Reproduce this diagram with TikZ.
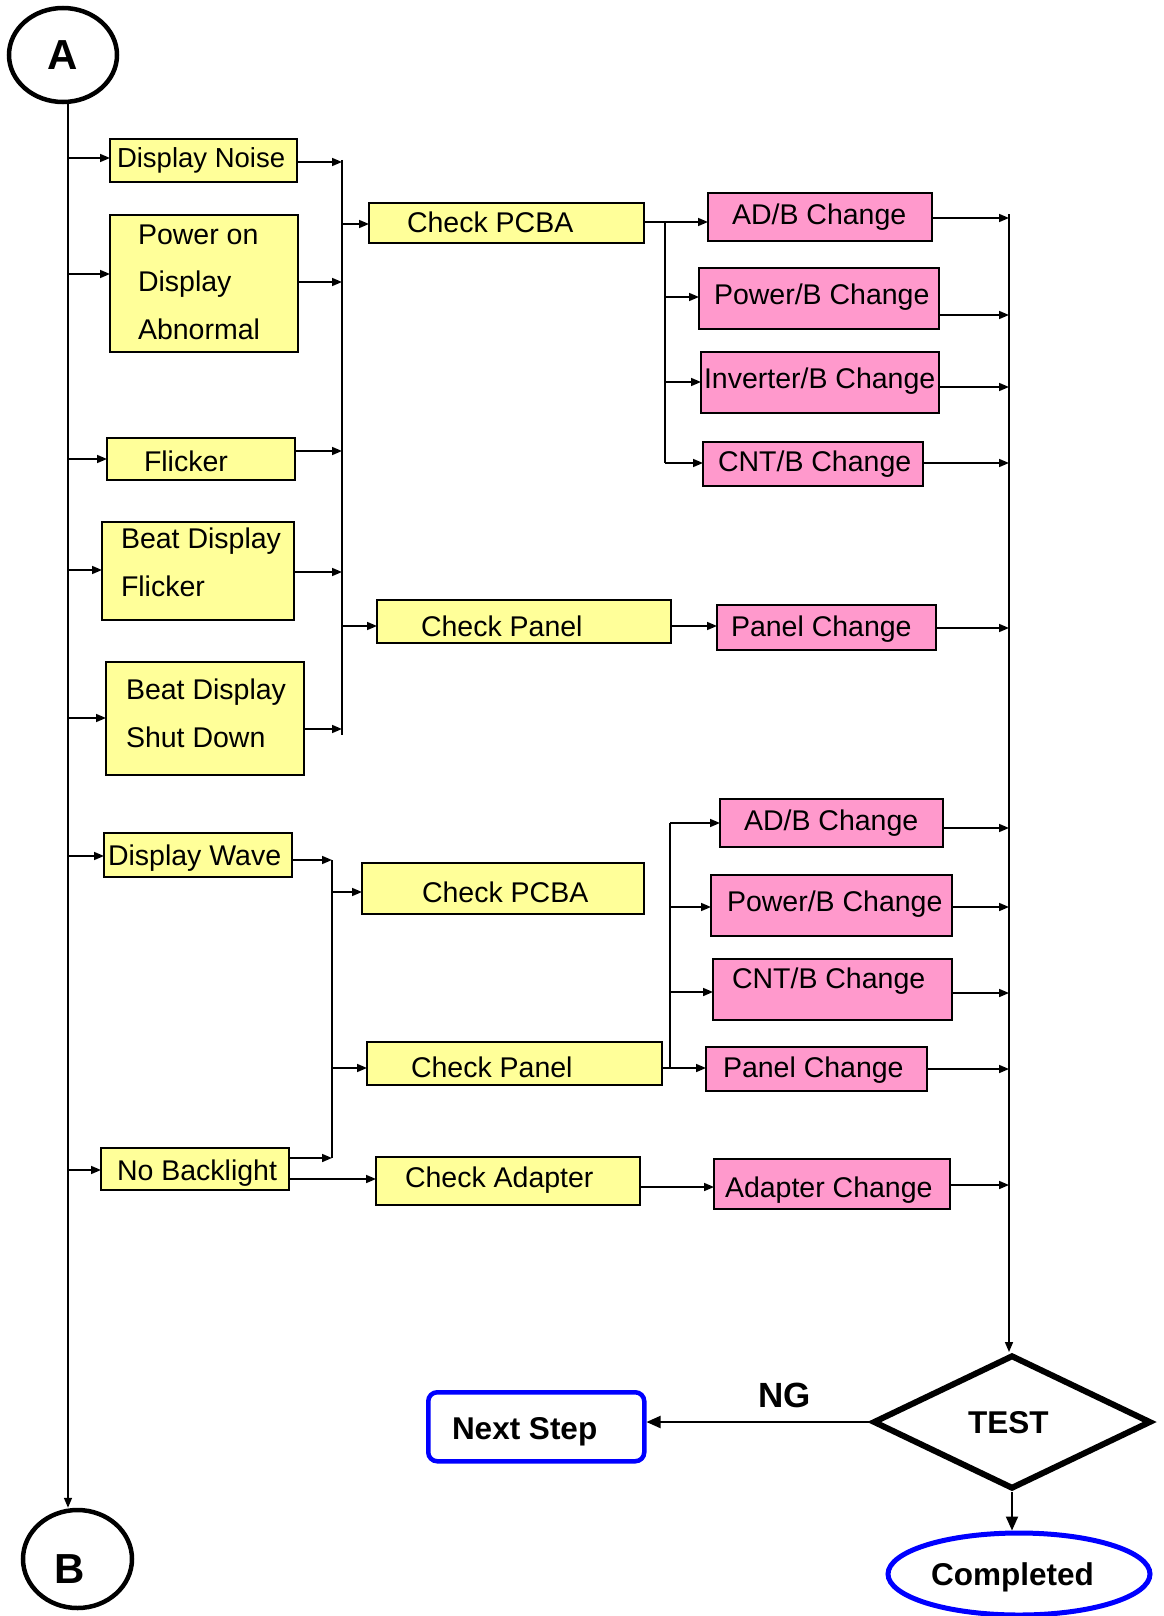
\documentclass[tikz,border=0pt]{standalone}
\usepackage{fontspec}
\setmainfont{Liberation Sans}
\usetikzlibrary{arrows.meta,shapes.geometric}
\definecolor{yel}{HTML}{FFFF99}
\definecolor{pnk}{HTML}{FF99CC}
\definecolor{blu}{HTML}{0000FF}
\tikzset{
  ybox/.style={draw, fill=yel, line width=1.8pt, inner sep=0pt, outer sep=0pt},
  pbox/.style={draw, fill=pnk, line width=1.8pt, inner sep=0pt, outer sep=0pt},
  txt/.style={inner sep=0pt, outer sep=0pt, font=\fontsize{28.5}{34}\selectfont},
  btxt/.style={inner sep=0pt, outer sep=0pt, font=\fontsize{31.5}{36}\selectfont\bfseries},
  arr/.style={line width=1.6pt, -{Triangle[length=10pt,width=8pt]}},
  bigarr/.style={line width=2pt, -{Triangle[length=14pt,width=12pt]}},
  ln/.style={line width=1.6pt},
  circ/.style={draw, ellipse, line width=4.5pt, inner sep=0pt, font=\fontsize{42}{48}\selectfont\bfseries}
}
\newcommand\bx[6]{\node[#2, anchor=north west, minimum width={(#5)-(#3)}, minimum height={(#6)-(#4)}] (#1) at (#3,#4) {};}
\newcommand\tx[4]{\node[txt, anchor=base west] (#1) at (#2,#3) {#4};}
\begin{document}
\begin{tikzpicture}[x=1pt,y=-1pt]
\path[use as bounding box] (0,0) rectangle (1163,1616);
% circles
\node[circ, minimum width=108, minimum height=94] (A) at (63,55) {A};
\node[circ, minimum width=109, minimum height=98] (B) at (77.5,1559) {};
\node[inner sep=0pt, anchor=base west, font=\fontsize{42}{48}\selectfont\bfseries] (Bt) at (54,1583) {B};
\coordinate (sp) at (68,0);
\coordinate (b1) at (342,0);
\coordinate (b2) at (332,0);
\coordinate (br1) at (665,0);
\coordinate (br2) at (670,0);
\coordinate (rb) at (1009,0);
% boxes
\bx{dn}{ybox}{110}{139}{297}{182}
\bx{po}{ybox}{110}{215}{298}{352}
\bx{fl}{ybox}{107}{438}{295}{480}
\bx{bdf}{ybox}{102}{522}{294}{620}
\bx{bds}{ybox}{106}{662}{304}{775}
\bx{cp1}{ybox}{369}{203}{644}{243}
\bx{cpn1}{ybox}{377}{600}{671}{643}
\bx{ad1}{pbox}{708}{193}{932}{241}
\bx{pw1}{pbox}{699}{268}{939}{329}
\bx{inv1}{pbox}{701}{352}{939}{413}
\bx{cnt1}{pbox}{703}{442}{923}{486}
\bx{pc1}{pbox}{717}{605}{936}{650}
\bx{dw}{ybox}{104}{833}{292}{877}
\bx{nb}{ybox}{101}{1148}{289}{1190}
\bx{cp2}{ybox}{362}{863}{644}{914}
\bx{cpn2}{ybox}{367}{1042}{662}{1085}
\bx{ca}{ybox}{376}{1157}{640}{1205}
\bx{ad2}{pbox}{720}{799}{943}{847}
\bx{pw2}{pbox}{711}{875}{952}{936}
\bx{cnt2}{pbox}{713}{959}{952}{1020}
\bx{pc2}{pbox}{706}{1047}{927}{1091}
\bx{ac}{pbox}{714}{1159}{950}{1209}
% texts
\node[txt, anchor=base west, font=\fontsize{27.5}{33}\selectfont] (dnt) at (117,168) {Display Noise};
\tx{pot1}{138}{244}{Power on}
\tx{pot2}{138}{291}{Display}
\tx{pot3}{138}{339}{Abnormal}
\tx{flt}{144}{471}{Flicker}
\tx{bdft1}{121}{548}{Beat Display}
\tx{bdft2}{121}{596}{Flicker}
\tx{bdst1}{126}{699}{Beat Display}
\tx{bdst2}{126}{747}{Shut Down}
\tx{cp1t}{407}{232}{Check PCBA}
\tx{cpn1t}{421}{636}{Check Panel}
\tx{ad1t}{732}{224}{AD/B Change}
\tx{pw1t}{714}{304}{Power/B Change}
\tx{inv1t}{704}{388}{Inverter/B Change}
\tx{cnt1t}{718}{471}{CNT/B Change}
\tx{pc1t}{731}{636}{Panel Change}
\tx{dwt}{108}{865}{Display Wave}
\tx{cp2t}{422}{902}{Check PCBA}
\tx{cpn2t}{411}{1077}{Check Panel}
\tx{nbt}{117}{1180}{No Backlight}
\tx{cat}{405}{1187}{Check Adapter}
\tx{ad2t}{744}{830}{AD/B Change}
\tx{pw2t}{727}{911}{Power/B Change}
\tx{cnt2t}{732}{988}{CNT/B Change}
\tx{pc2t}{723}{1077}{Panel Change}
\tx{act}{725}{1197}{Adapter Change}
% bottom shapes
\node[draw, diamond, line width=6pt, minimum width=278, minimum height=134, inner sep=0pt] (T) at (1012,1422) {};
\node[draw=blu, rounded corners=9pt, line width=4.5pt, minimum width=216, minimum height=69, anchor=north west] (ns) at (426,1390) {};
\node[draw=blu, ellipse, line width=5pt, minimum width=262, minimum height=82] (cm) at (1019,1574) {};
\node[btxt, anchor=base west] (Tt) at (968,1433) {TEST};
\node[btxt, anchor=base west] (nst) at (452,1439) {Next Step};
\node[btxt, anchor=base west] (cmt) at (931,1585) {Completed};
\node[btxt, anchor=base west, font=\fontsize{35}{40}\selectfont\bfseries] (ng) at (758,1407) {NG};
% spine
\draw[arr] (A.south -| sp) -- (B.north -| sp);
\foreach \n/\y in {dn/158, po/274, fl/459, bdf/570, bds/718, dw/856, nb/1170}
  \draw[arr] (sp |- 0,\y) -- (\n.west |- 0,\y);
% bus 1
\draw[ln] (b1 |- 0,160) -- (b1 |- 0,735);
\foreach \n/\y in {dn/162, po/282, fl/451, bdf/572, bds/729}
  \draw[arr] (\n.east |- 0,\y) -- (b1 |- 0,\y);
\draw[arr] (b1 |- 0,224) -- (cp1.west |- 0,224);
\draw[arr] (b1 |- 0,626) -- (cpn1.west |- 0,626);
% branch 1
\draw[arr] (cp1.east |- 0,222) -- (ad1.west |- 0,222);
\draw[ln] (br1 |- 0,222) -- (br1 |- 0,463);
\foreach \n/\y in {pw1/297, inv1/382, cnt1/463}
  \draw[arr] (br1 |- 0,\y) -- (\n.west |- 0,\y);
\draw[arr] (cpn1.east |- 0,626) -- (pc1.west |- 0,626);
% bus 2
\draw[arr] (dw.east |- 0,860) -- (b2 |- 0,860);
\draw[ln] (b2 |- 0,860) -- (b2 |- 0,1158);
\draw[arr] (nb.east |- 0,1158) -- (b2 |- 0,1158);
\draw[arr] (b2 |- 0,892) -- (cp2.west |- 0,892);
\draw[arr] (b2 |- 0,1068) -- (cpn2.west |- 0,1068);
\draw[arr] (nb.east |- 0,1179) -- (ca.west |- 0,1179);
\draw[arr] (ca.east |- 0,1187) -- (ac.west |- 0,1187);
% branch 2
\draw[arr] (cpn2.east |- 0,1068) -- (pc2.west |- 0,1068);
\draw[ln] (br2 |- 0,823) -- (br2 |- 0,1068);
\foreach \n/\y in {ad2/823, pw2/907, cnt2/992}
  \draw[arr] (br2 |- 0,\y) -- (\n.west |- 0,\y);
% right bus
\foreach \n/\y in {ad1/218, pw1/315, inv1/387, cnt1/463, pc1/628, ad2/828, pw2/907, cnt2/993, pc2/1069, ac/1185}
  \draw[arr] (\n.east |- 0,\y) -- (rb |- 0,\y);
\draw[arr] (rb |- 0,214) -- (T.north -| rb);
% bottom
\draw[bigarr] (T.west) -- (ns.east |- T.west);
\draw[bigarr] (T.south) -- (T.south |- cm.north);
\end{tikzpicture}
\end{document}
